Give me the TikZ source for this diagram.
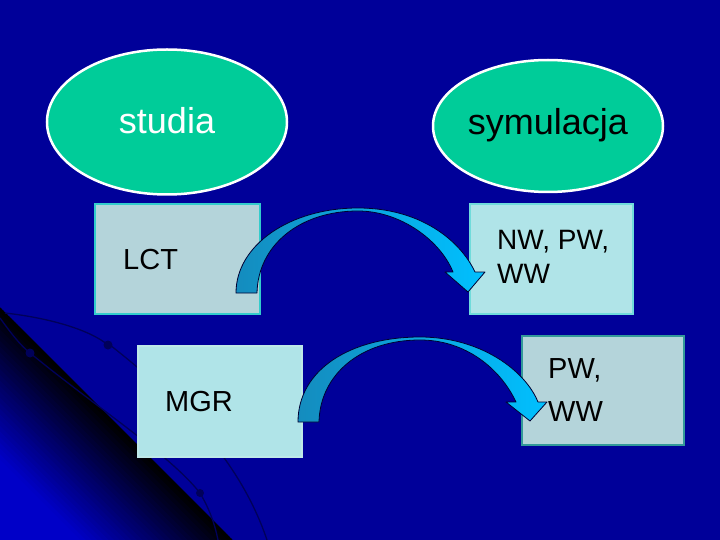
\documentclass[tikz,border=0pt]{standalone}
\usepackage{fontspec}
\setmainfont{Liberation Sans}
\usetikzlibrary{shapes.geometric}
\definecolor{bgblue}{RGB}{0,0,153}
\definecolor{cornerblue}{RGB}{0,0,200}
\definecolor{ovalgreen}{RGB}{0,204,153}
\definecolor{boxgray}{RGB}{180,212,218}
\definecolor{boxlight}{RGB}{176,228,232}
\definecolor{edgecyan}{RGB}{51,204,204}
\definecolor{edgelight}{RGB}{190,232,232}
\definecolor{edgeteal}{RGB}{51,153,153}
\definecolor{arrowdark}{RGB}{20,140,190}
\definecolor{arrowlight}{RGB}{0,192,255}
\definecolor{decoline}{RGB}{0,0,50}
\definecolor{decofaint}{RGB}{0,0,90}
\tikzset{
  oval/.style={ellipse, fill=ovalgreen, draw=white, line width=2.5pt, inner sep=0pt},
  boxstyle/.style={rectangle, line width=2pt, inner sep=0pt},
  bigtext/.style={font=\fontsize{29}{32}\selectfont, inner sep=0pt},
  ovaltext/.style={font=\fontsize{36}{40}\selectfont, inner sep=0pt},
  bentarrow/.style={left color=arrowdark, right color=arrowlight, draw=decoline, line width=0.8pt, line join=round},
  decocurve/.style={draw=decofaint, line width=1.3pt}
}
\begin{document}
\begin{tikzpicture}[x=1pt,y=-1pt]
\useasboundingbox (0,0) rectangle (720,540);
\fill[bgblue] (0,0) rectangle (720,540);
% lower-left decoration: gradient from black at the diagonal edge to blue in the corner
\begin{scope}
\clip (0,307) .. controls (80,385) and (160,462) .. (233,540) -- (0,540) -- cycle;
\foreach \d in {0,4,...,200} {
  \pgfmathtruncatemacro{\pct}{min(100,\d*0.95)}
  \pgfmathsetmacro{\ox}{-\d*0.7071}
  \pgfmathsetmacro{\oy}{307+\d*0.7071}
  \fill[cornerblue!\pct!black] (\ox-300,\oy-300) -- (\ox+500,\oy+500) -- (\ox-500,\oy+1300) -- (\ox-1300,\oy+500) -- cycle;
}
\end{scope}
\draw[decocurve] (5,313) .. controls (50,318) and (90,330) .. (108,345);
\fill[decofaint] (108,345) circle (4.5);
\draw[decocurve] (0,318) .. controls (10,332) and (20,345) .. (30,353);
\fill[decofaint] (30,353) circle (4.5);
\draw[decocurve] (30,353) .. controls (100,410) and (170,455) .. (200,493) .. controls (210,510) and (215,525) .. (218,540);
\fill[decofaint] (200,493) circle (4);
\draw[decocurve] (110,345) .. controls (180,400) and (240,460) .. (267,540);
% ovals
\node[oval, minimum width=240, minimum height=145] (studia) at (167,122) {};
\node[ovaltext, text=white] (studiatext) at (167,121) {studia};
\node[oval, minimum width=230, minimum height=132] (sym) at (548,126) {};
\node[ovaltext, text=black] (symtext) at (548,125) {symulacja};
% boxes
\node[boxstyle, fill=boxgray, draw=edgecyan, minimum width=165, minimum height=110] (lct) at (177.5,259) {};
\node[bigtext, anchor=west] (lcttext) at (123,260) {LCT};
\node[boxstyle, fill=boxlight, draw=edgecyan!70!white, minimum width=163, minimum height=110] (nw) at (551.5,259) {};
\node[bigtext, font=\fontsize{28}{31}\selectfont, anchor=west] (nwtext1) at (497,242) {NW, PW,};
\node[bigtext, font=\fontsize{28}{31}\selectfont, anchor=west] (nwtext2) at (497,274) {WW};
\node[boxstyle, fill=boxlight, draw=edgelight, minimum width=164, minimum height=111] (mgr) at (220,401.5) {};
\node[bigtext, anchor=west] (mgrtext) at (165,402) {MGR};
\node[boxstyle, fill=boxgray, draw=edgeteal, minimum width=162, minimum height=109] (pw) at (603,390.5) {};
\node[bigtext, anchor=west] (pwtext1) at (548,370) {PW,};
\node[bigtext, anchor=west] (pwtext2) at (548,412) {WW};
% curved arrows
\path[bentarrow] (236,293) .. controls (236,245) and (290,208) .. (358,208)
  .. controls (420,208) and (460,240) .. (475,272) -- (485,272) -- (468,292) -- (445,272) -- (453,272)
  .. controls (440,240) and (400,211) .. (358,211)
  .. controls (300,211) and (258,245) .. (257,293) -- cycle;
\path[bentarrow] (298,422) .. controls (298,370) and (350,337) .. (420,337)
  .. controls (480,337) and (525,370) .. (538,402) -- (547,402) -- (530,421) -- (506,402) -- (516,402)
  .. controls (500,368) and (465,340) .. (420,340)
  .. controls (360,340) and (320,375) .. (319,422) -- cycle;
\end{tikzpicture}
\end{document}
